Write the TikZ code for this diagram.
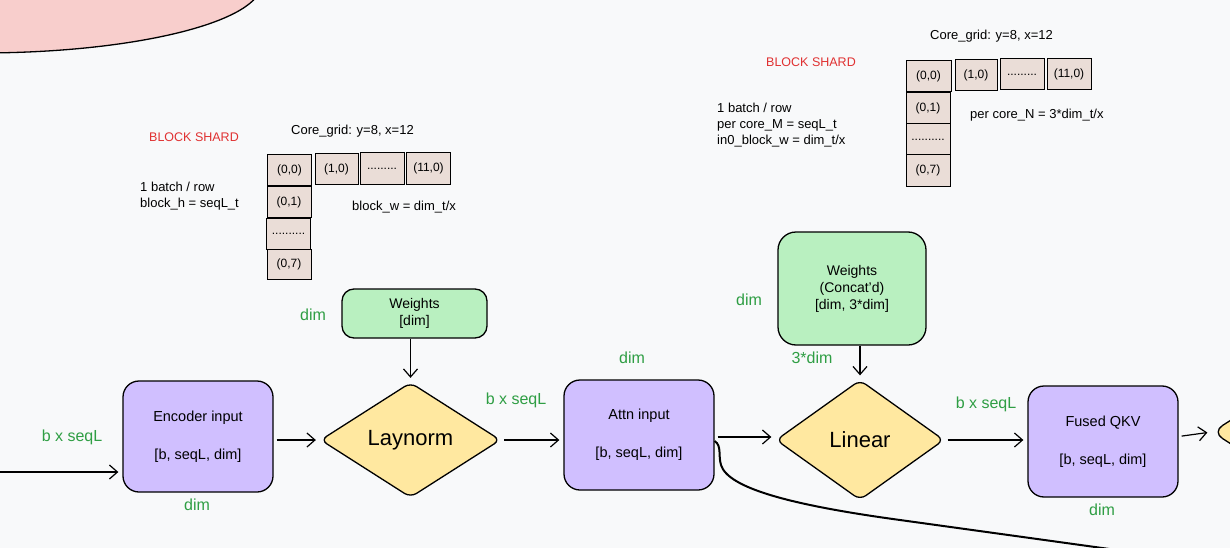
\documentclass[tikz,border=0pt]{standalone}
\usepackage{fontspec}
\setmainfont{Liberation Sans}
\usetikzlibrary{shapes.geometric,arrows.meta}
\definecolor{bgc}{HTML}{F8F9FA}
\definecolor{pinkc}{HTML}{F8CECC}
\definecolor{purpc}{HTML}{D0BFFF}
\definecolor{yelc}{HTML}{FFE8A0}
\definecolor{grnfill}{HTML}{B9F0C0}
\definecolor{grntxt}{HTML}{2F9E44}
\definecolor{redc}{HTML}{E03131}
\definecolor{cellc}{HTML}{EADDD7}
\begin{document}
\begin{tikzpicture}[x=1pt,y=-1pt,
  box/.style={draw, line width=1.3pt, rounded corners=16pt, fill=purpc, minimum width=150pt, minimum height=111pt, align=center, inner sep=0pt, font=\fontsize{14.5}{17}\selectfont},
  wbox/.style={draw, line width=1.3pt, rounded corners=12pt, fill=grnfill, align=center, inner sep=0pt, font=\fontsize{14}{17}\selectfont},
  diam/.style={draw, diamond, fill=yelc, line width=1.3pt, rounded corners=7pt, inner sep=0pt, minimum width=180pt, minimum height=115pt, font=\fontsize{22}{26}\selectfont},
  arr/.style={line width=1.2pt, -{Straight Barb[length=8pt,width=14pt,line width=1.2pt]}, shorten >=4pt, shorten <=3pt},
  lbl/.style={text=grntxt, font=\fontsize{16}{19}\selectfont},
  red/.style={text=redc, font=\fontsize{12.5}{15}\selectfont},
  cell/.style={draw, fill=cellc, line width=1pt, minimum width=44pt, minimum height=31pt, inner sep=0pt, font=\fontsize{12}{14}\selectfont},
  txt/.style={anchor=west, align=left, inner sep=0pt, font=\fontsize{13}{16}\selectfont}]
\useasboundingbox (0,0) rectangle (1230,548);
\clip (0,0) rectangle (1230,548);
\fill[bgc] (0,0) rectangle (1230,548);
% pink ellipse
\filldraw[fill=pinkc, draw=black, line width=1.3pt] (-20,-17) ellipse [x radius=282, y radius=70];

% main flow
\node[box] (enc) at (198,436.5) {Encoder input\\[21pt]{[}b, seqL, dim{]}};
\node[diam] (ln) at (410.5,440) {Laynorm};
\node[box, minimum height=110pt] (attn) at (639,435) {Attn input\\[21pt]{[}b, seqL, dim{]}};
\node[diam, minimum width=168pt, minimum height=120pt] (lin) at (860,440) {Linear};
\node[box] (qkv) at (1103,441.5) {Fused QKV\\[21pt]{[}b, seqL, dim{]}};
\node[diam, rounded corners=12pt] (nxt) at (1302,432) {};

\node[wbox, minimum width=145pt, minimum height=49pt] (w1) at (414.5,313.5) {Weights\\{[}dim{]}};
\node[wbox, rounded corners=18pt, minimum width=148pt, minimum height=113pt] (w2) at (852,288.5) {Weights\\(Concat'd)\\{[}dim, 3*dim{]}};

% arrows
\coordinate (src) at (0,472);
\draw[arr, shorten <=0pt] (src) -- (src -| enc.west);
\draw[arr] (enc.east |- ln.west) -- (ln.west);
\draw[arr] (ln.east) -- (attn.west |- ln.east);
\draw[arr] ([yshift=-2pt]attn.east) -- ([yshift=-2pt]attn.east -| lin.west);
\draw[arr] (lin.east) -- (qkv.west |- lin.east);
\draw[arr] ([yshift=5pt]qkv.east) -- (nxt.west);
\draw[arr, shorten <=0pt] (w1.south -| ln.north) -- (ln.north);
\draw[arr, shorten <=0pt] (w2.south -| lin.north) -- (lin.north);
\coordinate (cend) at (1160,556);
\draw[line width=2pt] ([yshift=-6pt]attn.east) .. controls (722,446) and (718,455) .. (721,465)
  .. controls (728,488) and (790,505) .. (900,520) -- (cend);

% green labels
\node[lbl] (l1) at (72,437) {b x seqL};
\node[lbl] (l2) at (197,505) {dim};
\node[lbl] (l3) at (313,315) {dim};
\node[lbl] (l4) at (516,400) {b x seqL};
\node[lbl] (l5) at (632,358) {dim};
\node[lbl] (l6) at (749,300) {dim};
\node[lbl] (l7) at (812,358) {3*dim};
\node[lbl] (l8) at (986,404) {b x seqL};
\node[lbl] (l9) at (1102,510) {dim};

% left shard block
\node[red] (bs1) at (194,137) {BLOCK SHARD};
\node[txt] (cg1) at (291,131) {Core\_grid: y=8, x=12};
\node[txt] (t1) at (140,196.5) {1 batch / row\\block\_h = seqL\_t};
\node[txt] (t2) at (352,207) {block\_w = dim\_t/x};
\node[cell] (a00) at (289.5,170) {(0,0)};
\node[cell, minimum width=43pt] (a10) at (336.5,169) {(1,0)};
\node[cell] (a20) at (382,168.5) {.........};
\node[cell] (a110) at (428.5,168.5) {(11,0)};
\node[cell] (a01) at (289,202) {(0,1)};
\node[cell] (a02) at (288.5,233.5) {..........};
\node[cell, minimum height=30pt] (a07) at (289,264.5) {(0,7)};

% right shard block
\node[red] (bs2) at (811,62) {BLOCK SHARD};
\node[txt] (cg2) at (930,36) {Core\_grid: y=8, x=12};
\node[txt] (t3) at (717,125) {1 batch / row\\per core\_M = seqL\_t\\in0\_block\_w = dim\_t/x};
\node[txt] (t4) at (970,115) {per core\_N = 3*dim\_t/x};
\node[cell, minimum width=45pt] (b00) at (928.5,76) {(0,0)};
\node[cell, minimum width=42pt] (b10) at (976,75.5) {(1,0)};
\node[cell] (b20) at (1022,74.5) {.........};
\node[cell] (b110) at (1069,74.5) {(11,0)};
\node[cell] (b01) at (928,108.5) {(0,1)};
\node[cell] (b02) at (928,139.5) {..........};
\node[cell] (b07) at (928,170.5) {(0,7)};
\end{tikzpicture}
\end{document}
